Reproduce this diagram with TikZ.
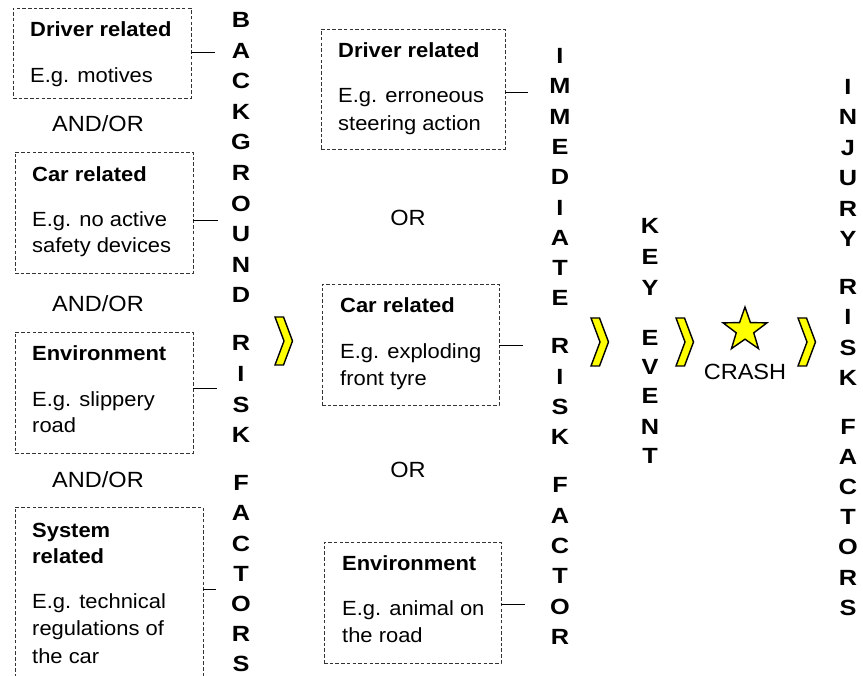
\documentclass[tikz,border=0pt]{standalone}
\usepackage{fontspec}
\setmainfont{Liberation Sans}
\newfontfamily\widefont[FakeStretch=1.15]{Liberation Sans}
\newfontfamily\boxfont[FakeStretch=1.07]{Liberation Sans}
\usetikzlibrary{shapes.geometric}
\definecolor{chevyellow}{HTML}{FFFF00}
\begin{document}
\begin{tikzpicture}[x=1pt,y=-1pt,
  dbox/.style={draw=black!80, line width=0.9pt, dash pattern=on 3.5pt off 2.2pt,
    rectangle, inner sep=0, outer sep=0, anchor=north west},
  ttl/.style={font=\boxfont\bfseries\fontsize{20.5}{25}\selectfont, inner sep=0, anchor=base west},
  bdy/.style={font=\boxfont\fontsize{20.5}{25}\selectfont, inner sep=0, anchor=base west},
  lbl/.style={font=\boxfont\fontsize{22}{25}\selectfont, inner sep=0, anchor=base},
  vl/.style={font=\widefont\bfseries\fontsize{22}{24}\selectfont, inner sep=0, anchor=center},
  conn/.style={draw=black, line width=0.8pt},
  chev/.pic={\path[fill=chevyellow, draw=black, line width=1.4pt, line join=miter]
     (0,0)--(8.5,0)--(17.5,24)--(8.5,48)--(0,48)--(9,24)--cycle;}
]
\useasboundingbox (0,0) rectangle (863,676);
\clip (0,0) rectangle (863,676);

% ---------- left column: background factors ----------
\node[dbox, minimum width=178, minimum height=90] (b1) at (13,8) {};
\node[ttl] (b1t) at (30,37) {Driver related};
\node[bdy] (b1a) at (30,83) {E.g. motives};

\node[lbl] (ao1) at (98,132) {AND/OR};

\node[dbox, minimum width=178, minimum height=121] (b2) at (15,152) {};
\node[ttl] (b2t) at (32,182) {Car related};
\node[bdy] (b2a) at (32,227) {E.g. no active};
\node[bdy] (b2b) at (32,253) {safety devices};

\node[lbl] (ao2) at (98,312) {AND/OR};

\node[dbox, minimum width=178, minimum height=121] (b3) at (15,332) {};
\node[ttl] (b3t) at (32,361) {Environment};
\node[bdy] (b3a) at (32,407) {E.g. slippery};
\node[bdy] (b3b) at (32,433) {road};

\node[lbl] (ao3) at (98,487) {AND/OR};

\node[dbox, minimum width=188, minimum height=215] (b4) at (15,507) {};
\node[ttl] (b4t) at (32,537) {System};
\node[ttl] (b4u) at (32,563) {related};
\node[bdy] (b4a) at (32,608) {E.g. technical};
\node[bdy] (b4b) at (32,635) {regulations of};
\node[bdy] (b4c) at (32,663) {the car};

\coordinate (e1) at (215,52);
\coordinate (e2) at (218,220);
\coordinate (e3) at (217,388);
\coordinate (e4) at (216,589);
\draw[conn] (b1.east |- e1) -- (e1);
\draw[conn] (b2.east |- e2) -- (e2);
\draw[conn] (b3.east |- e3) -- (e3);
\draw[conn] (b4.east |- e4) -- (e4);

% vertical BACKGROUND RISK FACTORS
\foreach \l/\y [count=\i] in {B/20,A/50.6,C/81.2,K/111.8,G/142.4,R/173,O/203.6,U/234.2,N/264.8,D/295.4,
  R/343.4,I/374,S/404.6,K/435.2,
  F/483.2,A/513.4,C/543.6,T/573.8,O/604,R/634.2,S/664.4}
  \node[vl] (bg\i) at (241,\y) {\l};

% ---------- middle column: immediate factors ----------
\node[dbox, minimum width=184, minimum height=120] (m1) at (321,29) {};
\node[ttl] (m1t) at (338,58) {Driver related};
\node[bdy] (m1a) at (338,103) {E.g. erroneous};
\node[bdy] (m1b) at (338,131) {steering action};

\node[lbl] (or1) at (408,226) {OR};

\node[dbox, minimum width=177, minimum height=121] (m2) at (322,284) {};
\node[ttl] (m2t) at (340,313) {Car related};
\node[bdy] (m2a) at (340,359) {E.g. exploding};
\node[bdy] (m2b) at (340,386) {front tyre};

\node[lbl] (or2) at (408,478) {OR};

\node[dbox, minimum width=177, minimum height=121] (m3) at (324,542) {};
\node[ttl] (m3t) at (342,570) {Environment};
\node[bdy] (m3a) at (342,615) {E.g. animal on};
\node[bdy] (m3b) at (342,642) {the road};

\coordinate (f1) at (528,92);
\coordinate (f2) at (523,345);
\coordinate (f3) at (525,604);
\draw[conn] (m1.east |- f1) -- (f1);
\draw[conn] (m2.east |- f2) -- (f2);
\draw[conn] (m3.east |- f3) -- (f3);

% vertical IMMEDIATE RISK FACTOR
\foreach \l/\y [count=\i] in {I/56,M/86.3,M/116.6,E/146.9,D/177.2,I/207.5,A/237.8,T/268.1,E/298.4,
  R/346.4,I/376.7,S/407,K/437.3,
  F/485.3,A/515.6,C/545.9,T/576.2,O/606.5,R/636.8}
  \node[vl] (im\i) at (560,\y) {\l};

% vertical KEY EVENT
\foreach \l/\y [count=\i] in {K/226,E/257,Y/288,E/338,V/367,E/396,N/427,T/456}
  \node[vl] (ke\i) at (650,\y) {\l};

% vertical INJURY RISK FACTORS
\foreach \l/\y [count=\i] in {I/87,N/117.4,J/147.8,U/178.2,R/208.6,Y/239,
  R/287,I/317.4,S/347.8,K/378.2,
  F/427,A/457.1,C/487.2,T/517.3,O/547.4,R/577.5,S/607.6}
  \node[vl] (ij\i) at (848,\y) {\l};

% ---------- chevrons, star, crash ----------
\pic at (275,317) {chev};
\pic at (591,318) {chev};
\pic at (676,318) {chev};
\pic at (798,318) {chev};

\node[star, star points=5, star point ratio=2.5, minimum size=46, inner sep=0,
  fill=chevyellow, draw=black, line width=1.4pt] (star) at (745,330) {};
\node[lbl] (crash) at (745,380) {CRASH};
\end{tikzpicture}
\end{document}
